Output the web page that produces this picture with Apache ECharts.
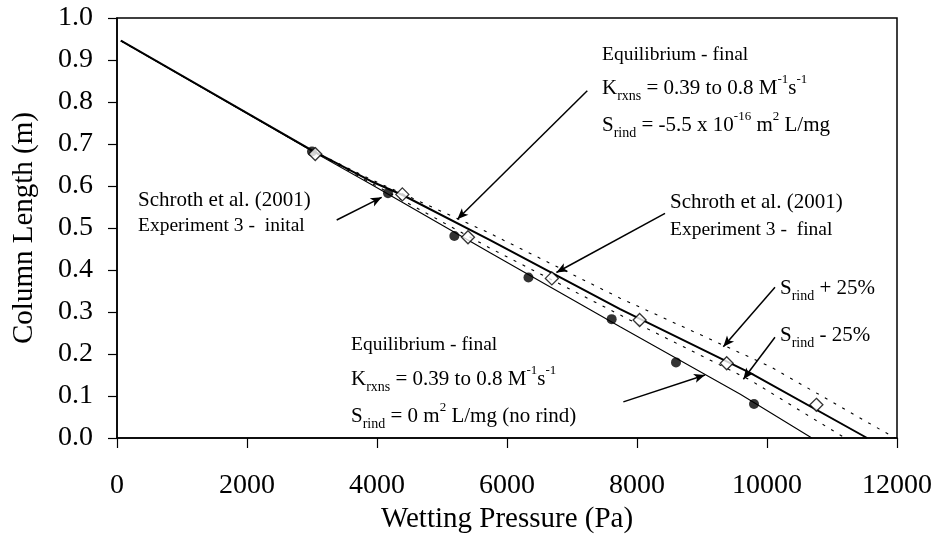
<!DOCTYPE html>
<html><head><meta charset="utf-8">
<script src="https://cdn.jsdelivr.net/npm/echarts@6/dist/echarts.min.js"></script>
<style>html,body{margin:0;padding:0;background:#fff}#c{width:941px;height:541px}</style>
</head><body><div id="c"></div>
<script>
// ---- data ----
const expInitialX = [3000, 4170, 5190, 6330, 7610, 8600, 9800];
const expInitialY = [0.682, 0.583, 0.481, 0.382, 0.283, 0.180, 0.081];
const expFinalX = [3050, 4390, 5400, 6690, 8040, 9380, 10760];
const expFinalY = [0.676, 0.580, 0.478, 0.380, 0.281, 0.178, 0.079];

const noRindX = [60, 3000, 3900, 5740, 7740, 9590, 10690];
const noRindY = [0.946, 0.683, 0.605, 0.441, 0.265, 0.104, 0];
const srindX = [60, 3000, 3900, 4400, 5740, 7740, 9740, 11540];
const srindY = [0.946, 0.685, 0.612, 0.578, 0.471, 0.307, 0.155, 0];
const srindMinusX = [60, 3000, 3900, 5740, 7890, 9740, 11200];
const srindMinusY = [0.946, 0.684, 0.608, 0.452, 0.281, 0.138, 0];
const srindPlusX = [60, 3000, 3900, 5740, 7740, 10050, 11970];
const srindPlusY = [0.946, 0.685, 0.616, 0.487, 0.333, 0.170, 0];

const arrowFromX = [7235, 3380, 8431, 10123, 10123, 7790];
const arrowFromY = [0.827, 0.519, 0.535, 0.359, 0.240, 0.086];
const arrowToX = [5236, 4072, 6760, 9328, 9636, 9046];
const arrowToY = [0.521, 0.573, 0.394, 0.217, 0.140, 0.150];

const xTickMin = 0, xTickMax = 12000, xTickStep = 2000;
const yTickMin = 0, yTickMax = 1.0, yTickStep = 0.1;

// ---- helpers ----
const zip = (xs, ys) => xs.map((x, i) => [x, ys[i]]);
const FONT = '"Liberation Serif", "Times New Roman", serif';
const rich = {
  n: {fontFamily: FONT, fontSize: 21, lineHeight: 30, fill: '#000', verticalAlign: 'middle'},
  e: {fontFamily: FONT, fontSize: 19.5, lineHeight: 30, fill: '#000', verticalAlign: 'middle'},
  sub: {fontFamily: FONT, fontSize: 14, lineHeight: 20, fill: '#000', verticalAlign: 'bottom'},
  sup: {fontFamily: FONT, fontSize: 13, lineHeight: 9, fill: '#000', verticalAlign: 'top'}
};
function txt(x, y, s) {
  return {type: 'text', x: x, y: y, z: 100, silent: true,
    style: {text: s, rich: rich, fontFamily: FONT, fontSize: 21, fill: '#000',
      align: 'left', verticalAlign: 'middle'}};
}
const texts = [
  [602, 55, '{e|Equilibrium - final}'],
  [602, 88, '{n|K}{sub|rxns}{n| = 0.39 to 0.8 M}{sup|-1}{n|s}{sup|-1}'],
  [602, 125, '{n|S}{sub|rind}{n| = -5.5 x 10}{sup|-16}{n| m}{sup|2}{n| L/mg}'],
  [138, 200, '{n|Schroth et al. (2001)}'],
  [138, 226, '{e|Experiment 3 -  inital}'],
  [670, 202, '{n|Schroth et al. (2001)}'],
  [670, 230, '{e|Experiment 3 -  final}'],
  [351, 345, '{e|Equilibrium - final}'],
  [351, 379, '{n|K}{sub|rxns}{n| = 0.39 to 0.8 M}{sup|-1}{n|s}{sup|-1}'],
  [351, 416, '{n|S}{sub|rind}{n| = 0 m}{sup|2}{n| L/mg (no rind)}'],
  [780, 288, '{n|S}{sub|rind}{n| + 25%}'],
  [780, 335, '{n|S}{sub|rind}{n| - 25%}']
];

const chart = echarts.init(document.getElementById('c'), null, {renderer: 'canvas'});
const lineBase = {type: 'line', showSymbol: false, symbol: 'none', silent: true, z: 2};
chart.setOption({
  animation: false,
  backgroundColor: '#fff',
  grid: {left: 117, right: 44, top: 18, bottom: 103, show: true, borderColor: '#000', borderWidth: 1.5, backgroundColor: 'transparent'},
  xAxis: {
    type: 'value', min: xTickMin, max: xTickMax, interval: xTickStep,
    name: 'Wetting Pressure (Pa)', nameLocation: 'middle', nameGap: 67,
    nameTextStyle: {fontFamily: FONT, fontSize: 29, color: '#000'},
    axisLine: {show: true, onZero: false, lineStyle: {color: '#000', width: 1.5}},
    axisTick: {show: true, inside: false, length: 10, lineStyle: {color: '#000', width: 1.2}},
    axisLabel: {fontFamily: FONT, fontSize: 28, color: '#000', margin: 34, formatter: v => String(v)},
    splitLine: {show: false}
  },
  yAxis: {
    type: 'value', min: yTickMin, max: yTickMax, interval: yTickStep,
    name: 'Column Length (m)', nameLocation: 'middle', nameGap: 78,
    nameTextStyle: {fontFamily: FONT, fontSize: 29, color: '#000'},
    axisLine: {show: true, onZero: false, lineStyle: {color: '#000', width: 1.5}},
    axisTick: {show: true, inside: false, length: 9, lineStyle: {color: '#000', width: 1.2}},
    axisLabel: {fontFamily: FONT, fontSize: 28, color: '#000', margin: 24, formatter: v => v.toFixed(1)},
    splitLine: {show: false}
  },
  series: [
    Object.assign({}, lineBase, {name: 'no rind', data: zip(noRindX, noRindY), lineStyle: {color: '#000', width: 1.1}}),
    Object.assign({}, lineBase, {name: 'Srind - 25%', data: zip(srindMinusX, srindMinusY), lineStyle: {color: '#000', width: 1.1, type: [3, 7]}}),
    Object.assign({}, lineBase, {name: 'Srind + 25%', data: zip(srindPlusX, srindPlusY), lineStyle: {color: '#000', width: 1.1, type: [3, 7]}}),
    Object.assign({}, lineBase, {name: 'Srind', data: zip(srindX, srindY), lineStyle: {color: '#000', width: 2},
      markLine: {silent: true, symbol: ['none', 'arrow'], symbolSize: [7, 11], animation: false,
        label: {show: false}, lineStyle: {color: '#000', width: 1.5, type: 'solid'},
        data: arrowFromX.map((x, i) => [{coord: [x, arrowFromY[i]]}, {coord: [arrowToX[i], arrowToY[i]]}])}}),
    {type: 'scatter', name: 'Experiment 3 - initial', data: zip(expInitialX, expInitialY), symbol: 'circle', symbolSize: 10,
      itemStyle: {color: '#000'}, z: 5, silent: true},
    {type: 'scatter', name: 'Experiment 3 - final', data: zip(expFinalX, expFinalY), symbol: 'diamond', symbolSize: 13,
      itemStyle: {color: '#fff', borderColor: '#000', borderWidth: 1.3}, z: 6, silent: true}
  ],
  graphic: texts.map(t => txt(t[0], t[1], t[2]))
});
</script>
</body></html>
